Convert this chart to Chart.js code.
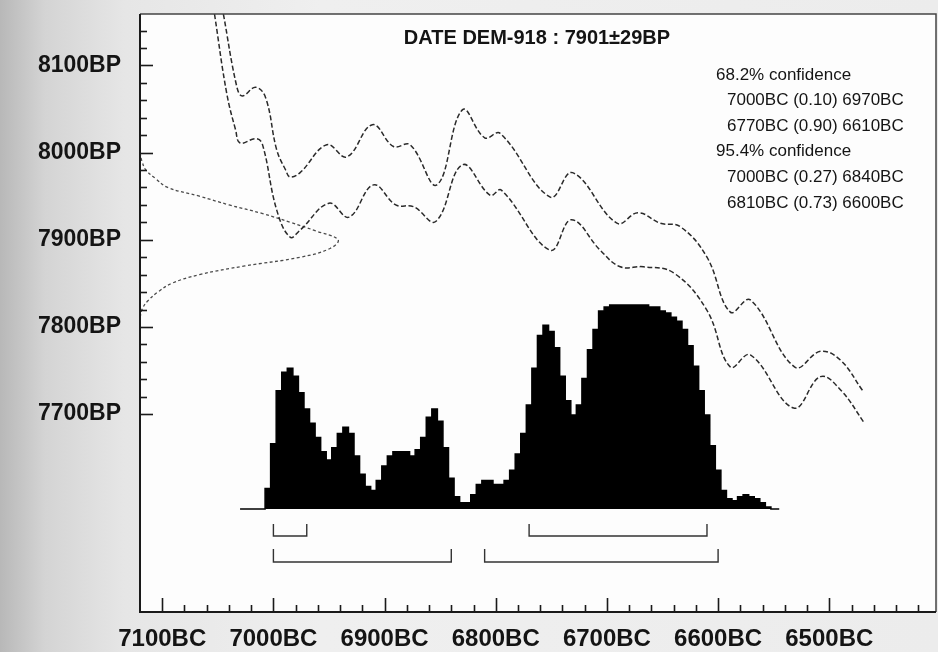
<!DOCTYPE html>
<html>
<head>
<meta charset="utf-8">
<script src="https://cdn.jsdelivr.net/npm/chart.js@4.4.1/dist/chart.umd.min.js"></script>
<style>
  html, body { margin: 0; padding: 0; }
  body {
    width: 938px; height: 652px; overflow: hidden;
    background: linear-gradient(to right, #b8b8b8 0px, #d4d4d4 45px, #e6e6e6 125px, #efefef 320px, #ececec 100%);
  }
  #wrap { position: relative; width: 938px; height: 652px; }
  canvas { display: block; }
</style>
</head>
<body>
<div id="wrap"><canvas id="chart" width="938" height="652"></canvas></div>
<script>
const FONT = '"Liberation Sans", Arial, sans-serif';

// calendar axis in BC (older to the left), radiocarbon axis in BP
const xTickLabels = [7100, 7000, 6900, 6800, 6700, 6600, 6500];
const yTickLabels = [8100, 8000, 7900, 7800, 7700];

// calibration curve, upper and lower envelope
const upperBC = [7045, 7033, 7028, 7016, 7007, 6997, 6989, 6985, 6976, 6952, 6934, 6911, 6892, 6877, 6853, 6830,
  6810, 6796, 6751, 6731, 6691, 6672, 6652, 6634, 6610, 6589, 6571, 6531, 6508, 6490, 6470];
const upperBP = [8159, 8076, 8065, 8075, 8063, 8003, 7980, 7972, 7977, 8009, 7995, 8032, 8007, 8009, 7963, 8049,
  8017, 8022, 7949, 7977, 7919, 7931, 7919, 7915, 7880, 7817, 7831, 7754, 7772, 7762, 7727];
const lowerBC = [7053, 7042, 7034, 7030, 7016, 7010, 6997, 6985, 6976, 6950, 6932, 6910, 6890, 6874, 6854, 6830,
  6805, 6795, 6751, 6732, 6706, 6688, 6667, 6640, 6610, 6589, 6571, 6532, 6508, 6490, 6468];
const lowerBP = [8159, 8068, 8026, 8011, 8016, 8010, 7934, 7903, 7911, 7942, 7926, 7963, 7940, 7938, 7921, 7986,
  7951, 7957, 7888, 7923, 7888, 7869, 7869, 7862, 7819, 7754, 7768, 7707, 7743, 7728, 7689];

// radiocarbon date 7901±29BP (relative probability)
const dateBP = [8000, 7990, 7980, 7970, 7960, 7950, 7940, 7930, 7920, 7910, 7900, 7890, 7880, 7870, 7860, 7850,
  7840, 7830, 7820, 7810];
const dateProb = [0, 1, 3, 8, 14, 30, 45, 62, 76, 89, 100, 96, 81, 53, 30, 16, 9, 4, 1, 0];

// calibrated distribution (relative probability, 5 year bins)
const histBC = [7030, 7025, 7020, 7015, 7010, 7005, 7000, 6995, 6990, 6985, 6980, 6975, 6970, 6965, 6960, 6955,
  6950, 6945, 6940, 6935, 6930, 6925, 6920, 6915, 6910, 6905, 6900, 6895, 6890, 6885, 6880, 6875, 6870, 6865,
  6860, 6855, 6850, 6845, 6840, 6835, 6830, 6825, 6820, 6815, 6810, 6805, 6800, 6795, 6790, 6785, 6780, 6775,
  6770, 6765, 6760, 6755, 6750, 6745, 6740, 6735, 6730, 6725, 6720, 6715, 6710, 6705, 6700, 6695, 6690, 6685,
  6680, 6675, 6670, 6665, 6660, 6655, 6650, 6645, 6640, 6635, 6630, 6625, 6620, 6615, 6610, 6605, 6600, 6595,
  6590, 6585, 6580, 6575, 6570, 6565, 6560, 6555, 6550, 6545];
const histProb = [0, 0, 0, 0, 0, 10, 32, 58, 67, 69, 65, 57, 49, 42, 35, 28,
  24, 30, 37, 40, 37, 26, 17, 11, 9, 14, 21, 26, 28, 28, 28, 26, 29, 35,
  45, 49, 43, 30, 15, 6, 3, 3, 7, 12, 14, 14, 12, 12, 14, 19, 27, 37,
  51, 69, 85, 90, 87, 79, 65, 53, 46, 51, 64, 78, 88, 97, 99, 100, 100, 100,
  100, 100, 100, 100, 99, 99, 97, 96, 94, 92, 88, 80, 70, 58, 46, 31, 19, 9,
  5, 4, 6, 7, 6, 5, 3, 1, 0, 0];

// confidence ranges
const range68From = [7000, 6770];
const range68To = [6970, 6610];
const range68P = [0.10, 0.90];
const range95From = [7000, 6810];
const range95To = [6840, 6600];
const range95P = [0.27, 0.73];

const pts = (xs, ys) => xs.map((v, i) => ({ x: v, y: ys[i] }));

const overlay = {
  id: 'overlay',
  beforeDraw(chart) {
    const { ctx, chartArea: a } = chart;
    ctx.save();
    ctx.fillStyle = '#fdfdfd';
    ctx.fillRect(a.left, a.top, a.right - a.left, a.bottom - a.top);
    ctx.restore();
  },
  afterDatasetsDraw(chart) {
    const { ctx, chartArea: a, scales } = chart;
    const x = scales.x, y = scales.y, y2 = scales.y2;
    ctx.save();

    // frame
    ctx.strokeStyle = '#444';
    ctx.lineWidth = 1.5;
    ctx.beginPath();
    ctx.moveTo(a.left, a.top); ctx.lineTo(a.right, a.top); ctx.lineTo(a.right, a.bottom);
    ctx.stroke();
    ctx.strokeStyle = '#1a1a1a';
    ctx.lineWidth = 2;
    ctx.beginPath();
    ctx.moveTo(a.left, a.top); ctx.lineTo(a.left, a.bottom); ctx.lineTo(a.right, a.bottom);
    ctx.stroke();

    // tick marks, pointing into the plot
    ctx.lineWidth = 1.6;
    for (let v = 7700; v <= 8140; v += 20) {
      const py = Math.round(y.getPixelForValue(v)) + 0.5;
      const len = v % 100 === 0 ? 13 : 7;
      ctx.beginPath(); ctx.moveTo(a.left, py); ctx.lineTo(a.left + len, py); ctx.stroke();
    }
    for (let v = 7100; v >= 6420; v -= 20) {
      const px = Math.round(x.getPixelForValue(v)) + 0.5;
      const len = v % 100 === 0 ? 14 : 7;
      ctx.beginPath(); ctx.moveTo(px, a.bottom); ctx.lineTo(px, a.bottom - len); ctx.stroke();
    }

    // range brackets under the distribution
    const base = y2.getPixelForValue(0);
    ctx.strokeStyle = '#333';
    ctx.lineWidth = 1.4;
    const bracket = (from, to, off, h) => {
      const x1 = x.getPixelForValue(from), x2 = x.getPixelForValue(to);
      ctx.beginPath();
      ctx.moveTo(x1, base + off - h); ctx.lineTo(x1, base + off);
      ctx.lineTo(x2, base + off); ctx.lineTo(x2, base + off - h);
      ctx.stroke();
    };
    range68From.forEach((f, i) => bracket(f, range68To[i], 27, 12));
    range95From.forEach((f, i) => bracket(f, range95To[i], 53, 13));

    // title and ranges text
    ctx.fillStyle = '#141414';
    ctx.textBaseline = 'middle';
    ctx.textAlign = 'center';
    ctx.font = 'bold 20px ' + FONT;
    ctx.fillText('DATE DEM-918 : 7901\u00b129BP', 537, 38);

    ctx.textAlign = 'left';
    ctx.font = '17px ' + FONT;
    const line = (f, t, p) => f + 'BC (' + p.toFixed(2) + ') ' + t + 'BC';
    let ty = 75;
    ctx.fillText('68.2% confidence', 716, ty);
    range68From.forEach((f, i) => { ty += 25.6; ctx.fillText(line(f, range68To[i], range68P[i]), 727, ty); });
    ty += 25.6;
    ctx.fillText('95.4% confidence', 716, ty);
    range95From.forEach((f, i) => { ty += 25.6; ctx.fillText(line(f, range95To[i], range95P[i]), 727, ty); });

    ctx.restore();
  }
};

new Chart(document.getElementById('chart'), {
  type: 'scatter',
  data: {
    datasets: [
      {
        data: pts(histBC, histProb),
        xAxisID: 'x', yAxisID: 'y2',
        showLine: true, stepped: 'middle', fill: 'origin',
        backgroundColor: '#000', borderColor: '#000', borderWidth: 1.5,
        pointRadius: 0
      },
      {
        data: pts(upperBC, upperBP),
        showLine: true, tension: 0.4, borderColor: '#2a2a2a', borderWidth: 1.5,
        borderDash: [5, 2.5], pointRadius: 0
      },
      {
        data: pts(lowerBC, lowerBP),
        showLine: true, tension: 0.4, borderColor: '#2a2a2a', borderWidth: 1.5,
        borderDash: [5, 2.5], pointRadius: 0
      },
      {
        data: pts(dateProb, dateBP),
        xAxisID: 'x2', yAxisID: 'y',
        showLine: true, tension: 0.4, borderColor: '#4a4a4a', borderWidth: 1.3,
        borderDash: [3, 2.5], pointRadius: 0
      }
    ]
  },
  options: {
    responsive: false,
    animation: false,
    layout: { padding: { top: 14, right: 2, left: 0, bottom: 0 } },
    plugins: { legend: { display: false }, tooltip: { enabled: false } },
    scales: {
      x: {
        type: 'linear', min: 6404, max: 7120, reverse: true, position: 'bottom',
        grid: { display: false, drawTicks: false }, border: { display: false },
        afterBuildTicks: s => { s.ticks = xTickLabels.map(v => ({ value: v })); },
        afterFit: s => { s.height = 40; s.paddingLeft = 0; s.paddingRight = 0; },
        ticks: {
          callback: v => v + 'BC', color: '#141414', padding: 13,
          font: { family: FONT, size: 24, weight: 'bold' }, maxRotation: 0, autoSkip: false
        }
      },
      y: {
        type: 'linear', min: 7473, max: 8159, position: 'left',
        grid: { display: false, drawTicks: false }, border: { display: false },
        afterBuildTicks: s => { s.ticks = yTickLabels.map(v => ({ value: v })); },
        afterFit: s => { s.width = 140; s.paddingTop = 0; s.paddingBottom = 0; },
        ticks: {
          callback: v => v + 'BP', color: '#141414', padding: 19,
          font: { family: FONT, size: 23, weight: 'bold' }, autoSkip: false
        }
      },
      x2: { type: 'linear', display: false, min: 0, max: 402 },
      y2: { type: 'linear', display: false, min: -50.5, max: 242.6 }
    }
  },
  plugins: [overlay]
});
</script>
</body>
</html>
